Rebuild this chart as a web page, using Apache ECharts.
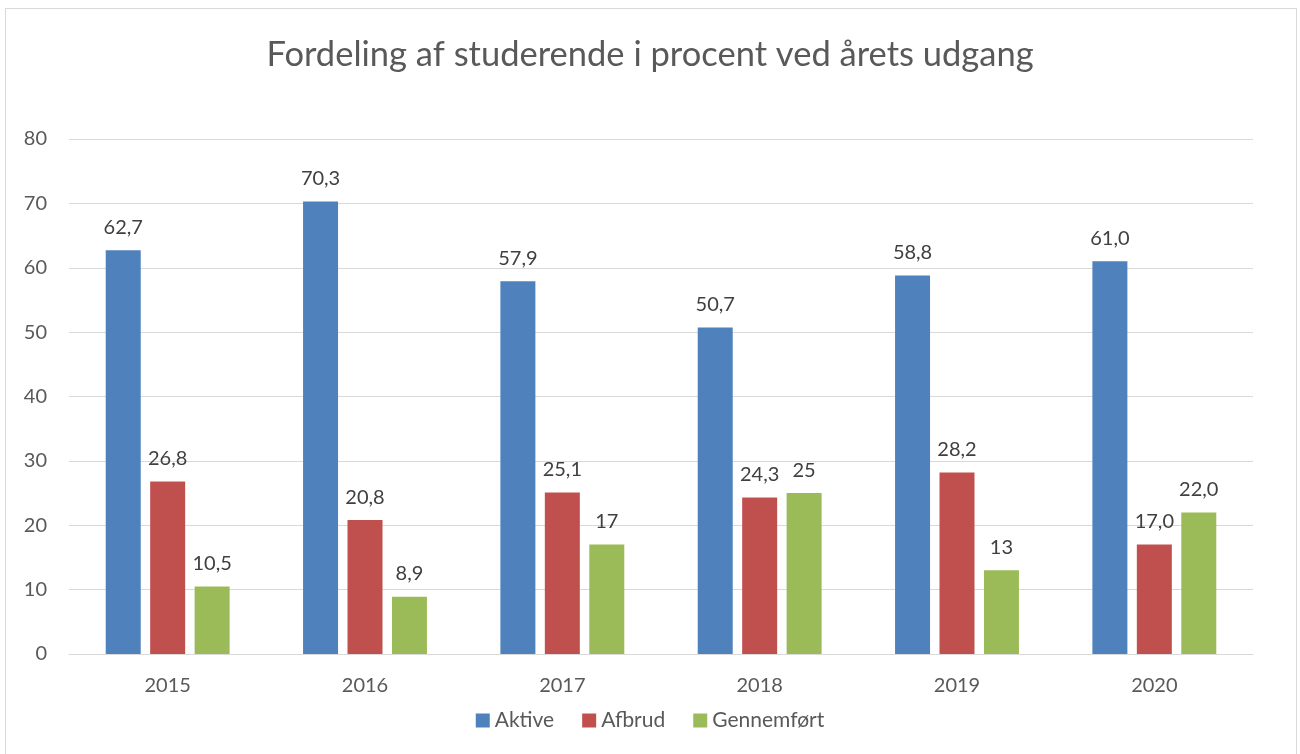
<!DOCTYPE html>
<html>
<head>
<meta charset="utf-8">
<script src="https://cdn.jsdelivr.net/npm/echarts@6/dist/echarts.min.js"></script>
<style>
  html, body { margin: 0; padding: 0; background: #fff; }
  #main { width: 1300px; height: 754px; }
  #frame { position: absolute; left: 5px; top: 8px; width: 1292px; height: 750px; border: 1px solid #d9d9d9; box-sizing: border-box; pointer-events: none; }
</style>
</head>
<body>
<div id="main"></div>
<div id="frame"></div>
<script>
// data
var years = ['2015', '2016', '2017', '2018', '2019', '2020'];
var aktive = [62.7, 70.3, 57.9, 50.7, 58.8, 61.0];
var afbrud = [26.8, 20.8, 25.1, 24.3, 28.2, 17.0];
var gennemfort = [10.5, 8.9, 17, 25, 13, 22.0];
// label text as printed in the chart
var aktiveLabels = ['62,7', '70,3', '57,9', '50,7', '58,8', '61,0'];
var afbrudLabels = ['26,8', '20,8', '25,1', '24,3', '28,2', '17,0'];
var gennemfortLabels = ['10,5', '8,9', '17', '25', '13', '22,0'];

var font = 'Lato, "Open Sans", sans-serif';

function labelOf(arr) {
  return {
    show: true,
    position: 'top',
    distance: 13,
    color: '#404040',
    fontSize: 20,
    fontFamily: font,
    formatter: function (p) { return arr[p.dataIndex]; }
  };
}

var chart = echarts.init(document.getElementById('main'));
var option = {
  backgroundColor: '#fff',
  animation: false,
  title: {
    text: 'Fordeling af studerende i procent ved årets udgang',
    left: 'center',
    top: 32,
    textStyle: { color: '#595959', fontSize: 34.5, fontWeight: 'normal', fontFamily: font }
  },
  legend: {
    bottom: 18,
    left: 'center',
    itemWidth: 14,
    itemHeight: 14,
    itemGap: 28,
    icon: 'rect',
    textStyle: { color: '#595959', fontSize: 21, fontFamily: font },
    data: ['Aktive', 'Afbrud', 'Gennemført']
  },
  grid: { left: 69, right: 47, top: 139, bottom: 100 },
  xAxis: {
    type: 'category',
    data: years,
    axisTick: { show: false },
    axisLine: { lineStyle: { color: '#d9d9d9', width: 1 } },
    axisLabel: { color: '#595959', fontSize: 20, fontFamily: font, margin: 22 }
  },
  yAxis: {
    type: 'value',
    min: 0,
    max: 80,
    interval: 10,
    axisLine: { show: false },
    axisTick: { show: false },
    splitLine: { lineStyle: { color: '#d9d9d9', width: 1 } },
    axisLabel: { color: '#595959', fontSize: 20, fontFamily: font, margin: 22 }
  },
  series: [
    { name: 'Aktive', type: 'bar', data: aktive, barWidth: 35, barGap: '27%',
      itemStyle: { color: '#4f81bd' }, label: labelOf(aktiveLabels) },
    { name: 'Afbrud', type: 'bar', data: afbrud, barWidth: 35, barGap: '27%',
      itemStyle: { color: '#c0504d' }, label: labelOf(afbrudLabels) },
    { name: 'Gennemført', type: 'bar', data: gennemfort, barWidth: 35, barGap: '27%',
      itemStyle: { color: '#9bbb59' }, label: labelOf(gennemfortLabels) }
  ]
};
chart.setOption(option);
</script>
</body>
</html>
